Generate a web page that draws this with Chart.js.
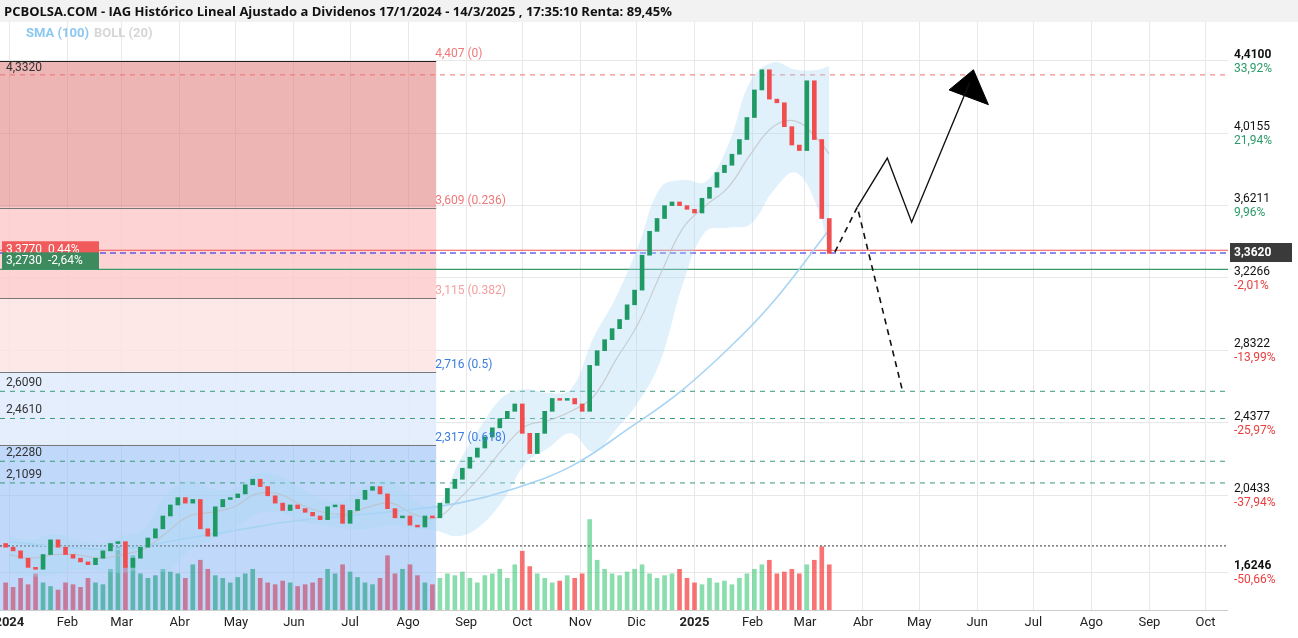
<!DOCTYPE html>
<html><head><meta charset="utf-8">
<script src="https://cdn.jsdelivr.net/npm/chart.js@4.4.1/dist/chart.umd.min.js"></script>
<style>html,body{margin:0;padding:0;background:#fff}#w{width:1298px;height:638px}</style>
</head><body><div id="w"><canvas id="c"></canvas></div>
<script>
// ---- data ----
const title = "PCBOLSA.COM - IAG Histórico Lineal Ajustado a Dividenos 17/1/2024 - 14/3/2025 , 17:35:10 Renta: 89,45%";
const firstOpen = 1.78;
const closes = [1.76,1.74,1.70,1.65,1.64,1.72,1.80,1.76,1.72,1.70,
1.68,1.665,1.70,1.74,1.78,1.79,1.65,1.70,1.76,1.81,
1.86,1.93,1.99,2.03,2.00,2.02,1.86,1.82,1.98,2.02,
2.03,2.05,2.10,2.13,2.09,2.04,2.00,1.96,1.99,1.97,
1.95,1.93,1.91,1.98,1.99,1.89,1.96,2.02,2.07,2.09,
2.05,1.97,1.92,1.93,1.88,1.87,1.93,1.92,2.00,2.08,
2.13,2.19,2.25,2.30,2.36,2.41,2.46,2.50,2.54,2.38,
2.27,2.38,2.50,2.57,2.56,2.57,2.54,2.50,2.75,2.83,
2.89,2.95,3.00,3.08,3.16,3.35,3.48,3.55,3.62,3.64,
3.62,3.60,3.58,3.66,3.72,3.80,3.84,3.90,3.98,4.10,
4.25,4.36,4.20,4.18,4.05,3.95,3.92,4.30,3.98,3.55,
3.36];
const volumes = [30,25,35,28,40,30,26,22,30,28,
25,35,30,28,45,70,50,60,40,35,
38,45,42,40,35,50,55,45,38,35,
30,36,40,45,35,30,28,32,30,26,
28,30,35,45,40,50,42,36,30,28,
35,60,40,45,50,38,30,28,35,40,
38,42,35,30,38,40,45,35,50,65,
48,40,35,30,32,38,35,40,100,55,
45,40,38,42,45,50,40,35,38,40,
45,35,30,28,35,30,32,28,35,40,
45,50,55,40,42,45,40,50,55,70,
50];
const bollDays = [0,12,24,36,48,60,72,84,96,108,120,132,144,156,168,180,192,204,216,228,240,252,264,276,288,300,312,324,336,348,360,372,384,396,408,420,432,438];
const bollMid = [1.72,1.70,1.72,1.72,1.70,1.72,1.75,1.84,1.93,1.95,1.98,2.05,2.05,1.99,1.95,1.94,1.98,2.00,1.94,1.92,2.02,2.15,2.30,2.42,2.45,2.50,2.58,2.78,2.98,3.25,3.50,3.62,3.72,3.90,4.05,4.08,3.98,3.90];
const bollUp = [1.82,1.80,1.83,1.80,1.78,1.82,1.86,2.05,2.12,2.08,2.08,2.16,2.15,2.08,2.02,2.02,2.10,2.12,2.02,1.98,2.22,2.42,2.58,2.62,2.60,2.62,2.90,3.12,3.40,3.72,3.76,3.75,3.95,4.30,4.40,4.36,4.36,4.38];
const bollLo = [1.62,1.60,1.61,1.64,1.63,1.62,1.64,1.63,1.74,1.80,1.86,1.94,1.95,1.90,1.88,1.86,1.86,1.88,1.86,1.85,1.82,1.88,2.02,2.22,2.30,2.38,2.28,2.40,2.55,2.78,3.20,3.48,3.50,3.52,3.70,3.80,3.60,3.35];
const smaDays = [0,30,60,90,120,150,180,210,240,270,300,330,360,390,410,438];
const sma100 = [1.79,1.76,1.75,1.80,1.85,1.90,1.93,1.96,2.00,2.08,2.20,2.40,2.62,2.90,3.12,3.49];
const yTicks = [4.4100,4.0155,3.6211,3.2266,2.8322,2.4377,2.0433,1.6246];
const yTickText = ["4,4100","4,0155","3,6211","3,2266","2,8322","2,4377","2,0433","1,6246"];
const yPct = ["33,92%","21,94%","9,96%","-2,01%","-13,99%","-25,97%","-37,94%","-50,66%"];
const monthDays = [0,31,60,91,121,152,182,213,244,274,305,335,366,397,425,456,486,517,547,578,609,639];
const monthNames = ["2024","Feb","Mar","Abr","May","Jun","Jul","Ago","Sep","Oct","Nov","Dic","2025","Feb","Mar","Abr","May","Jun","Jul","Ago","Sep","Oct"];
const fibLevels = [4.407,3.609,3.115,2.716,2.317];
const fibText = ["4,407 (0)","3,609 (0.236)","3,115 (0.382)","2,716 (0.5)","2,317 (0.618)"];
const fibEnd = 228;
const dashedGreen = [[2.609,"2,6090"],[2.461,"2,4610"],[2.228,"2,2280"],[2.1099,"2,1099"]];
const pathDashed = [[441,3.367],[453,3.612],[477,2.616]];
const pathSolid = [[453,3.612],[469,3.879],[482,3.53],[513,4.29]];
const arrowHead = [[502,4.25],[523,4.17],[515,4.36],[502,4.25]];

const days = closes.map((_,i)=>-2+4*i);
const opens = closes.map((c,i)=> i===0?firstOpen:closes[i-1]);
const up = closes.map((c,i)=> c>=opens[i]);

const candleData = days.map((d,i)=>({x:d,y:[opens[i],closes[i]]}));
const volData = days.map((d,i)=>({x:d,y:volumes[i]}));
const volColors = days.map((d,i)=> d<fibEnd ? (up[i]?'rgba(60,170,150,0.75)':'rgba(200,90,120,0.75)') : (up[i]?'rgba(60,200,120,0.6)':'rgba(245,70,70,0.75)'));

const overlay = {
  id:'overlay',
  beforeDatasetsDraw(ch){
    const {ctx, chartArea:a, scales:{x,y}} = ch;
    const xe = x.getPixelForValue(fibEnd);
    const Y = v=>y.getPixelForValue(v);
    ctx.save();
    const fills=['rgba(224,120,120,0.55)','rgba(253,200,200,0.8)','rgba(253,225,225,0.8)','rgba(225,236,252,0.9)'];
    for(let i=0;i<4;i++){ctx.fillStyle=fills[i];ctx.fillRect(a.left,Y(fibLevels[i]),xe-a.left,Y(fibLevels[i+1])-Y(fibLevels[i]));}
    ctx.fillStyle='rgba(150,190,245,0.6)';ctx.fillRect(a.left,Y(fibLevels[4]),xe-a.left,a.bottom-Y(fibLevels[4]));
    ctx.lineWidth=1;
    fibLevels.forEach((v,i)=>{ctx.strokeStyle=i===0?'#222':'#777';ctx.beginPath();ctx.moveTo(a.left,Math.round(Y(v))+0.5);ctx.lineTo(xe,Math.round(Y(v))+0.5);ctx.stroke();});
    const hl=(v,col,dash,w)=>{ctx.strokeStyle=col;ctx.setLineDash(dash);ctx.lineWidth=w||1;ctx.beginPath();ctx.moveTo(a.left,Y(v));ctx.lineTo(a.right,Y(v));ctx.stroke();};
    hl(4.332,'#f07070',[5,5]);
    dashedGreen.forEach(g=>hl(g[0],'#3a9a7a',[5,5]));
    hl(1.767,'#333',[2,2]);
    hl(3.377,'#f05050',[],1.2);
    hl(3.362,'#1a1ae0',[6,4],1.2);
    hl(3.273,'#3a9a6a',[],1.2);
    ctx.setLineDash([]);
    ctx.restore();
  },
  afterDraw(ch){
    const {ctx, chartArea:a, scales:{x,y}} = ch;
    const xe = x.getPixelForValue(fibEnd);
    const Y = v=>y.getPixelForValue(v);
    ctx.save();
    ctx.fillStyle='#f2f2f2';ctx.fillRect(0,0,1298,22);
    ctx.fillStyle='#111';ctx.font='bold 13px "Open Sans", sans-serif';ctx.textBaseline='middle';ctx.textAlign='left';
    ctx.fillText(title,4,12);
    ctx.font='bold 13px Roboto, sans-serif';
    ctx.fillStyle='#8cc8f0';ctx.fillText('SMA (100)',26,34);
    ctx.fillStyle='#d6d6d6';ctx.fillText('BOLL (20)',94,34);
    ctx.strokeStyle='#ccc';ctx.beginPath();ctx.moveTo(a.left,a.bottom+0.5);ctx.lineTo(a.right,a.bottom+0.5);ctx.stroke();
    ctx.textAlign='center';ctx.fillStyle='#222';
    monthDays.forEach((d,i)=>{
      const bold = monthNames[i].length===4;
      ctx.font=(bold?'bold ':'')+'13px Roboto, sans-serif';
      ctx.fillText(monthNames[i],x.getPixelForValue(d),a.bottom+13);
    });
    ctx.textAlign='left';
    ctx.font='12px Roboto, sans-serif';ctx.textBaseline='bottom';
    const fc=['#f07878','#f07878','#f4a0a0','#3a7ce0','#3a7ce0'];
    fibLevels.forEach((v,i)=>{ctx.fillStyle=fc[i];ctx.fillText(fibText[i],xe-1,Y(v)-1);});
    ctx.fillStyle='#333';ctx.font='12px Roboto, sans-serif';
    ctx.textBaseline='top';ctx.fillText('4,3320',6,Y(4.407)+1);
    ctx.textBaseline='bottom';
    dashedGreen.forEach(g=>ctx.fillText(g[1],6,Y(g[0])-2));
    ctx.textBaseline='middle';
    ctx.fillStyle='#f05a5a';ctx.fillRect(2,Y(3.377)-9,97,17);
    ctx.fillStyle='#fff';ctx.fillText('3,3770  0,44%',6,Y(3.377));
    ctx.fillStyle='#3d8a5f';ctx.fillRect(2,Y(3.273)-17,97,17);
    ctx.fillStyle='#fff';ctx.fillText('3,2730  -2,64%',6,Y(3.273)-8);
    yTicks.forEach((v,i)=>{
      const p=Y(v);
      ctx.fillStyle='#111';ctx.font=(i===0||i===7?'bold ':'')+'12px Roboto, sans-serif';
      ctx.fillText(yTickText[i],1234,p-6);
      ctx.font='12px Roboto, sans-serif';
      ctx.fillStyle=yPct[i][0]==='-'?'#e84040':'#2a9a6a';
      ctx.fillText(yPct[i],1234,p+8);
    });
    ctx.fillStyle='#3a3a3a';ctx.fillRect(1230,Y(3.362)-10,62,19);
    ctx.fillStyle='#fff';ctx.font='bold 12px Roboto, sans-serif';ctx.fillText('3,3620',1234,Y(3.362));
    ctx.restore();
  }
};

const pts = arr => arr.map(p=>({x:p[0],y:p[1]}));
new Chart(document.getElementById('c'),{
  data:{datasets:[
    {type:'line',label:'bu',data:bollDays.map((d,i)=>({x:d,y:bollUp[i]})),borderWidth:0,pointRadius:0,fill:'+1',backgroundColor:'rgba(170,215,245,0.35)',tension:0.4,order:5},
    {type:'line',label:'bl',data:bollDays.map((d,i)=>({x:d,y:bollLo[i]})),borderWidth:0,pointRadius:0,fill:false,tension:0.4,order:5},
    {type:'line',label:'bm',data:bollDays.map((d,i)=>({x:d,y:bollMid[i]})),borderColor:'rgba(190,190,190,0.7)',borderWidth:1.2,pointRadius:0,tension:0.4,order:4},
    {type:'line',label:'sma',data:smaDays.map((d,i)=>({x:d,y:sma100[i]})),borderColor:'#a8d4f4',borderWidth:1.6,pointRadius:0,tension:0.4,order:3},
    {type:'bar',label:'vol',yAxisID:'yv',data:volData,backgroundColor:volColors,barThickness:4,grouped:false,order:6},
    {type:'bar',label:'candle',data:candleData,backgroundColor:up.map(u=>u?'#1f9a65':'#f04e4e'),barThickness:4,grouped:false,order:1},
    {type:'line',label:'pd',data:pts(pathDashed),borderColor:'#111',borderDash:[6,5],borderWidth:1.6,pointRadius:0,order:0},
    {type:'line',label:'ps',data:pts(pathSolid),borderColor:'#111',borderWidth:1.4,pointRadius:0,order:0},
    {type:'line',label:'ah',data:pts(arrowHead),borderColor:'#000',backgroundColor:'#000',fill:'shape',borderWidth:1,pointRadius:0,order:0}
  ]},
  options:{
    responsive:true,maintainAspectRatio:false,animation:false,
    layout:{padding:{top:22,right:70,left:0,bottom:28}},
    plugins:{legend:{display:false},tooltip:{enabled:false}},
    scales:{
      x:{type:'linear',min:-5,max:651,offset:false,
        afterBuildTicks:s=>{s.ticks=monthDays.map(v=>({value:v}));},
        ticks:{display:false},
        grid:{color:'#e8e8e8',drawTicks:false,offset:false},border:{display:false}},
      y:{type:'linear',position:'right',min:1.418,max:4.62,display:true,
        afterBuildTicks:s=>{s.ticks=yTicks.map(v=>({value:v}));},
        ticks:{display:false},grid:{color:'#e8e8e8',drawTicks:false},border:{display:false}},
      yv:{type:'linear',min:0,max:650,display:false}
    }
  },
  plugins:[overlay]
});
</script></body></html>
